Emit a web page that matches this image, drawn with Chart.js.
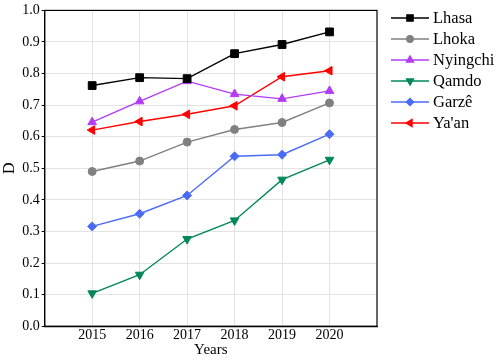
<!DOCTYPE html>
<html>
<head>
<meta charset="utf-8">
<script src="https://cdn.jsdelivr.net/npm/chart.js@4"></script>
<style>
  html, body { margin: 0; padding: 0; background: #fff; }
  #caja { width: 498px; height: 359px; }
</style>
</head>
<body>
<div id="caja"><canvas id="grafico"></canvas></div>
<script>
// datos
const anios = [2015, 2016, 2017, 2018, 2019, 2020];
const ciudades = ["Lhasa", "Lhoka", "Nyingchi", "Qamdo", "Garzê", "Ya'an"];
const lhasa = [0.762, 0.787, 0.784, 0.863, 0.892, 0.932];
const lhoka = [0.490, 0.523, 0.583, 0.623, 0.645, 0.707];
const nyingchi = [0.646, 0.712, 0.776, 0.735, 0.720, 0.745];
const qamdo = [0.104, 0.163, 0.276, 0.335, 0.464, 0.527];
const garze = [0.316, 0.356, 0.414, 0.538, 0.543, 0.608];
const yaan = [0.621, 0.648, 0.671, 0.698, 0.790, 0.809];
const valores = [lhasa, lhoka, nyingchi, qamdo, garze, yaan];

const colores = ['#000000', '#808080', '#b23cf5', '#00875a', '#4a6cf5', '#ff0000'];
const marcas = ['rect', 'circle', 'triangle', 'triangle', 'rectRot', 'triangle'];
const giros = [0, 0, 0, 180, 0, 270];
const radios = [5.5, 4, 5, 5, 4.5, 5];

const fuente = 'Liberation Serif, Times New Roman, serif';

const datasets = ciudades.map((nombre, i) => ({
    label: nombre,
    data: anios.map((a, j) => ({ x: a, y: valores[i][j] })),
    borderColor: colores[i],
    backgroundColor: colores[i],
    borderWidth: 1.4,
    pointStyle: marcas[i],
    rotation: giros[i],
    pointRadius: radios[i],
    pointBorderWidth: 1,
    tension: 0
}));

// marco del area y leyenda a la derecha
const marcoLeyenda = {
    id: 'marcoLeyenda',
    afterDraw(chart) {
        const ctx = chart.ctx;
        const a = chart.chartArea;
        ctx.save();
        ctx.strokeStyle = '#000';
        ctx.lineWidth = 1.2;
        ctx.strokeRect(a.left, a.top, a.right - a.left, a.bottom - a.top);

        const x0 = 391, x1 = 429, y0 = 18, paso = 21;
        ctx.font = '16.5px ' + fuente;
        ctx.textBaseline = 'middle';
        chart.data.datasets.forEach((ds, i) => {
            const y = y0 + i * paso;
            ctx.strokeStyle = ds.borderColor;
            ctx.lineWidth = 1.4;
            ctx.beginPath();
            ctx.moveTo(x0, y);
            ctx.lineTo(x1, y);
            ctx.stroke();
            ctx.fillStyle = ds.backgroundColor;
            Chart.helpers.drawPoint(ctx, {
                pointStyle: ds.pointStyle,
                rotation: ds.rotation,
                radius: ds.pointRadius * 0.8,
                borderWidth: 1
            }, (x0 + x1) / 2, y);
            ctx.fillStyle = '#000';
            ctx.fillText(ds.label, 433, y + 1);
        });
        ctx.restore();
    }
};

new Chart(document.getElementById('grafico'), {
    type: 'line',
    data: { datasets: datasets },
    plugins: [marcoLeyenda],
    options: {
        responsive: true,
        maintainAspectRatio: false,
        animation: false,
        layout: { padding: { top: 1, right: 121, left: 0, bottom: 0 } },
        plugins: {
            legend: { display: false },
            tooltip: { enabled: false }
        },
        scales: {
            x: {
                type: 'linear',
                min: 2014,
                max: 2021,
                border: { color: '#000', width: 1.2 },
                grid: {
                    color: (c) => (c.tick && anios.includes(c.tick.value)) ? '#e3e3e3' : 'rgba(0,0,0,0)',
                    drawTicks: false
                },
                ticks: {
                    stepSize: 1,
                    padding: 1,
                    color: '#000',
                    font: { family: fuente, size: 14 },
                    callback: (v) => anios.includes(v) ? String(v) : ''
                },
                title: {
                    display: true,
                    text: 'Years',
                    color: '#000',
                    font: { family: fuente, size: 15 },
                    padding: { top: -4, bottom: 0 }
                }
            },
            y: {
                min: 0,
                max: 1,
                border: { color: '#000', width: 1.2 },
                grid: {
                    color: (c) => (c.tick && c.tick.value > 0 && c.tick.value < 1) ? '#e3e3e3' : 'rgba(0,0,0,0)',
                    tickColor: '#000',
                    tickLength: 3
                },
                ticks: {
                    stepSize: 0.1,
                    padding: 2,
                    color: '#000',
                    font: { family: fuente, size: 14 },
                    callback: (v) => v.toFixed(1)
                },
                title: {
                    display: true,
                    text: 'D',
                    color: '#000',
                    font: { family: fuente, size: 16 },
                    padding: { top: 0, bottom: 1 }
                }
            }
        }
    }
});
</script>
</body>
</html>
